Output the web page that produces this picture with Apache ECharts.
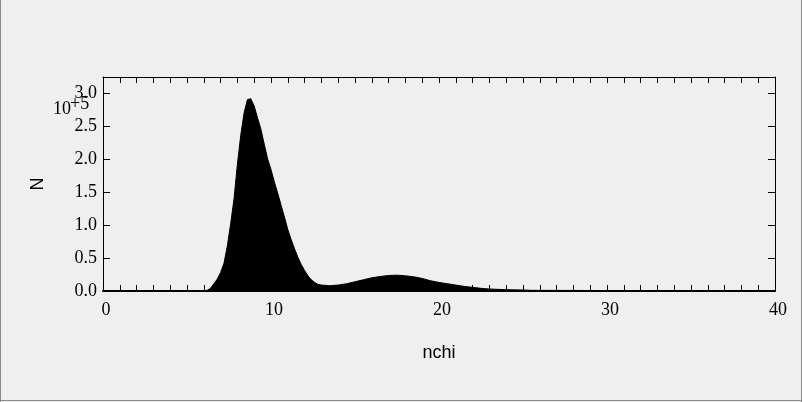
<!DOCTYPE html>
<html>
<head>
<meta charset="utf-8">
<style>
  html, body { margin: 0; padding: 0; background: #efefef; }
  #chart { width: 802px; height: 402px; }
</style>
<script src="https://cdn.jsdelivr.net/npm/echarts@6/dist/echarts.min.js"></script>
</head>
<body>
<div id="chart"></div>
<script>
// nchi bin centres (x) and counts N (y)
const nchi = [0, 6.0, 6.2, 6.4, 6.6, 6.8, 7.0, 7.2, 7.4, 7.6, 7.8, 8.0, 8.2, 8.4, 8.6, 8.7, 8.8, 9.0, 9.2, 9.4, 9.6, 9.8,
  10.0, 10.2, 10.4, 10.6, 10.8, 11.0, 11.2, 11.4, 11.6, 11.8, 12.0, 12.2, 12.4, 12.6, 12.8, 13.0, 13.5, 14.0, 14.5,
  15.0, 15.5, 16.0, 16.5, 17.0, 17.5, 18.0, 18.5, 19.0, 19.5, 20.0, 20.5, 21.0, 21.5, 22.0, 22.5, 23.0, 24.0, 25.0,
  25.5, 25.6, 40];
const counts = [0, 0, 1000, 4000, 11000, 18000, 28000, 42000, 68000, 102000, 140000, 192000, 236000, 270000, 290000, 293000, 291000, 280000, 262000, 245000, 222000, 200000,
  184000, 165000, 148000, 130000, 112000, 93000, 78000, 64000, 51000, 40000, 31000, 23000, 17000, 13000, 10000, 9000, 8000, 9000, 11000,
  14000, 17000, 20000, 22000, 23500, 24000, 23000, 21500, 19000, 15500, 13000, 11000, 9000, 7000, 5500, 4000, 3000, 2000, 1500,
  1000, 0, 0];
const xTickLabels = ['0', '10', '20', '30', '40'];
const yTickLabels = ['0.0', '0.5', '1.0', '1.5', '2.0', '2.5', '3.0'];

const chart = echarts.init(document.getElementById('chart'), null, { renderer: 'canvas' });
const serif = 'Liberation Serif';
const sans = 'Liberation Sans';

const xCommon = {
  type: 'value', min: 0, max: 40, interval: 1,
  splitLine: { show: false },
  axisLine: { show: true, onZero: false, lineStyle: { color: '#000', width: 1 } },
  axisTick: { show: true, inside: true, length: 6, lineStyle: { color: '#000', width: 1 } }
};
const yCommon = {
  type: 'value', min: 0, max: 324000, interval: 50000,
  splitLine: { show: false },
  axisLine: { show: true, onZero: false, lineStyle: { color: '#000', width: 1 } },
  axisTick: { show: true, inside: true, length: 7, lineStyle: { color: '#000', width: 1 } }
};

chart.setOption({
  backgroundColor: '#efefef',
  animation: false,
  grid: { left: 103, right: 27, top: 77, bottom: 111, containLabel: false },
  xAxis: [
    Object.assign({}, xCommon, {
      position: 'bottom',
      axisLine: { show: true, onZero: false, lineStyle: { color: '#000', width: 2 } },
      name: 'nchi', nameLocation: 'middle', nameGap: 62,
      nameTextStyle: { fontFamily: sans, fontSize: 18, color: '#000', verticalAlign: 'middle' },
      axisLabel: {
        show: true, margin: 10, color: '#000', fontFamily: serif, fontSize: 18, padding: [0, 0, 0, 6],
        formatter: v => { const i = xTickLabels.indexOf(String(v)); return i >= 0 ? xTickLabels[i] : ''; }
      }
    }),
    Object.assign({}, xCommon, { position: 'top', axisLabel: { show: false } })
  ],
  yAxis: [
    Object.assign({}, yCommon, {
      position: 'left',
      name: 'N', nameLocation: 'middle', nameGap: 65, nameRotate: 90,
      nameTextStyle: { fontFamily: sans, fontSize: 18, color: '#000', verticalAlign: 'middle' },
      axisLabel: {
        show: true, margin: 6, color: '#000', fontFamily: serif, fontSize: 18, showMaxLabel: false,
        formatter: v => { const i = Math.round(v / 50000); return (v % 50000 === 0 && yTickLabels[i]) ? yTickLabels[i] : ''; }
      }
    }),
    Object.assign({}, yCommon, { position: 'right', axisLabel: { show: false } })
  ],
  series: [{
    type: 'line',
    xAxisIndex: 0, yAxisIndex: 0,
    data: nchi.map((x, i) => [x, counts[i]]),
    showSymbol: false, symbol: 'none',
    lineStyle: { color: '#000', width: 1 },
    areaStyle: { color: '#000', opacity: 1 },
    itemStyle: { color: '#000' },
    z: 2
  }],
  graphic: [
    { type: 'text', left: 53, top: 100, z: 10,
      style: { text: '10', font: '18px "Liberation Serif"', fill: '#000' } },
    { type: 'text', left: 70, top: 95, z: 10,
      style: { text: '+5', font: '18px "Liberation Serif"', fill: '#000' } },
    { type: 'line', z: 20, shape: { x1: 0.5, y1: 0, x2: 0.5, y2: 402 }, style: { stroke: '#8a8a8a', lineWidth: 1 } },
    { type: 'line', z: 20, shape: { x1: 801.5, y1: 0, x2: 801.5, y2: 402 }, style: { stroke: '#8a8a8a', lineWidth: 1 } },
    { type: 'line', z: 20, shape: { x1: 0, y1: 400.5, x2: 802, y2: 400.5 }, style: { stroke: '#8a8a8a', lineWidth: 1 } }
  ]
});
</script>
</body>
</html>
